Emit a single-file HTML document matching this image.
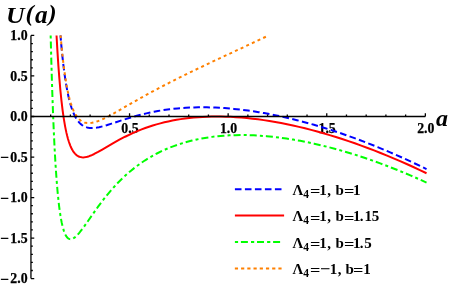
<!DOCTYPE html>
<html><head><meta charset="utf-8"><style>
html,body{margin:0;padding:0;background:#fff;}
svg{display:block;will-change:transform;font-family:"Liberation Serif",serif;font-weight:bold;}
</style></head><body>
<svg width="449" height="288" viewBox="0 0 449 288">
<defs><filter id="idf" x="0" y="0" width="449" height="288" filterUnits="userSpaceOnUse" color-interpolation-filters="sRGB"><feOffset dx="0" dy="0"/></filter></defs>
<rect width="449" height="288" fill="#fff"/>
<g fill="#000" stroke="#000" stroke-width="0.25" filter="url(#idf)"><text transform="translate(27.60 40.25) scale(1 1)" font-size="13.8px" text-anchor="end">1.0</text><text transform="translate(27.60 80.77) scale(1 1)" font-size="13.8px" text-anchor="end">0.5</text><text transform="translate(27.60 121.30) scale(1 1)" font-size="13.8px" text-anchor="end">0.0</text><text transform="translate(27.60 161.83) scale(1 1)" font-size="13.8px" text-anchor="end">0.5</text><text transform="translate(4.50 162.03) scale(1.1 1)" font-size="13.8px" text-anchor="middle" stroke="#000" stroke-width="0.3">−</text><text transform="translate(27.60 202.35) scale(1 1)" font-size="13.8px" text-anchor="end">1.0</text><text transform="translate(4.50 202.55) scale(1.1 1)" font-size="13.8px" text-anchor="middle" stroke="#000" stroke-width="0.3">−</text><text transform="translate(27.60 242.88) scale(1 1)" font-size="13.8px" text-anchor="end">1.5</text><text transform="translate(4.50 243.07) scale(1.1 1)" font-size="13.8px" text-anchor="middle" stroke="#000" stroke-width="0.3">−</text><text transform="translate(27.60 283.40) scale(1 1)" font-size="13.8px" text-anchor="end">2.0</text><text transform="translate(4.50 283.60) scale(1.1 1)" font-size="13.8px" text-anchor="middle" stroke="#000" stroke-width="0.3">−</text><text transform="translate(129.95 133.00) scale(1 1)" font-size="13.8px" text-anchor="middle">0.5</text><text transform="translate(228.55 133.00) scale(1 1)" font-size="13.8px" text-anchor="middle">1.0</text><text transform="translate(327.15 133.00) scale(1 1)" font-size="13.8px" text-anchor="middle">1.5</text><text transform="translate(425.85 133.00) scale(1 1)" font-size="13.8px" text-anchor="middle">2.0</text></g>
<g fill="none" stroke-width="2" stroke-linecap="butt" stroke-linejoin="round">
<path d="M60.48 35.45 L61.45 46.63 L62.48 57.03 L63.57 66.64 L64.73 75.45 L65.95 83.45 L67.24 90.64 L68.59 97.04 L69.29 99.99 L70.07 102.92 L70.84 105.59 L71.61 108.01 L72.38 110.21 L73.22 112.36 L74.05 114.30 L74.95 116.16 L75.85 117.83 L76.75 119.30 L77.72 120.70 L78.75 122.00 L79.77 123.13 L80.87 124.15 L82.02 125.06 L83.18 125.82 L84.40 126.46 L85.69 127.00 L87.04 127.42 L88.52 127.74 L90.00 127.93 L91.61 128.01 L93.28 127.97 L95.08 127.82 L97.01 127.56 L99.06 127.17 L102.79 126.28 L107.29 124.99 L111.60 123.63 L123.69 119.67 L130.83 117.47 L136.81 115.77 L142.59 114.26 L146.45 113.35 L150.25 112.51 L154.04 111.74 L157.90 111.02 L161.75 110.38 L165.68 109.78 L169.60 109.26 L173.52 108.80 L177.57 108.40 L181.62 108.06 L185.74 107.78 L189.92 107.56 L194.10 107.41 L198.34 107.32 L202.58 107.30 L206.89 107.34 L211.26 107.44 L215.64 107.60 L220.07 107.83 L224.57 108.12 L233.64 108.89 L242.90 109.92 L248.11 110.60 L253.38 111.36 L258.72 112.20 L264.05 113.11 L269.45 114.10 L274.85 115.17 L280.32 116.31 L285.85 117.54 L291.38 118.84 L296.97 120.22 L302.63 121.68 L308.29 123.21 L313.95 124.81 L319.67 126.49 L325.39 128.23 L331.18 130.07 L336.97 131.96 L342.82 133.95 L348.67 135.99 L354.52 138.11 L366.35 142.57 L378.25 147.31 L390.20 152.33 L402.23 157.63 L414.38 163.23 L426.53 169.09" stroke="#0000ff" stroke-dasharray="6.6 3.385" stroke-dashoffset="1.4"/>
<path d="M56.54 35.45 L57.40 50.57 L58.36 65.38 L59.33 78.19 L60.36 89.97 L61.45 100.68 L62.61 110.30 L63.83 118.85 L65.11 126.36 L65.76 129.62 L66.46 132.88 L67.17 135.81 L67.94 138.68 L68.72 141.24 L69.55 143.70 L70.39 145.86 L71.22 147.76 L72.12 149.53 L73.02 151.06 L73.99 152.46 L74.95 153.63 L75.98 154.65 L77.07 155.53 L78.23 156.24 L79.39 156.75 L80.61 157.12 L81.83 157.32 L83.12 157.38 L84.47 157.30 L85.88 157.08 L87.43 156.71 L89.10 156.18 L90.83 155.51 L92.44 154.81 L94.18 153.98 L98.10 151.91 L101.83 149.79 L112.82 143.36 L119.38 139.71 L125.10 136.73 L130.70 134.03 L134.30 132.41 L137.96 130.86 L141.63 129.40 L145.29 128.03 L149.02 126.73 L152.75 125.53 L156.55 124.39 L160.34 123.35 L164.33 122.34 L168.31 121.43 L172.43 120.58 L176.54 119.82 L180.72 119.13 L184.97 118.53 L189.27 118.00 L193.65 117.56 L198.08 117.19 L202.52 116.91 L207.08 116.70 L211.65 116.57 L216.28 116.52 L220.97 116.56 L225.73 116.67 L230.49 116.86 L235.89 117.16 L241.36 117.56 L246.88 118.06 L252.41 118.65 L258.07 119.35 L263.73 120.13 L269.45 121.02 L275.24 121.99 L281.09 123.07 L287.01 124.24 L292.99 125.52 L298.97 126.87 L305.01 128.33 L311.12 129.88 L317.23 131.52 L323.40 133.25 L329.64 135.09 L335.87 137.01 L342.17 139.02 L348.48 141.12 L354.84 143.31 L361.21 145.59 L367.64 147.97 L374.07 150.42 L380.56 152.98 L387.05 155.61 L393.55 158.33 L400.11 161.14 L406.67 164.03 L413.29 167.03 L419.91 170.11 L426.53 173.25" stroke="#ff0000"/>
<path d="M50.66 35.45 L51.35 62.03 L52.13 87.67 L52.90 109.71 L53.73 130.15 L54.63 148.79 L55.53 164.51 L56.50 178.63 L57.53 191.11 L58.62 201.95 L59.20 206.83 L59.84 211.65 L60.49 215.89 L61.13 219.62 L61.77 222.89 L62.48 226.01 L63.19 228.68 L63.96 231.14 L64.73 233.18 L65.56 234.97 L66.40 236.38 L67.30 237.53 L67.75 237.97 L68.27 238.39 L68.72 238.67 L69.23 238.91 L70.13 239.13 L71.03 239.14 L71.99 238.94 L72.96 238.54 L74.05 237.90 L75.15 237.09 L76.37 236.00 L77.65 234.69 L78.87 233.32 L80.22 231.69 L83.31 227.64 L86.27 223.51 L95.21 210.72 L98.10 206.70 L100.80 203.06 L103.37 199.69 L105.94 196.44 L108.52 193.30 L111.02 190.35 L114.24 186.73 L117.45 183.30 L120.73 179.97 L124.01 176.82 L127.35 173.78 L130.70 170.92 L134.17 168.11 L137.64 165.47 L141.37 162.82 L145.17 160.29 L149.02 157.89 L152.95 155.63 L156.93 153.49 L161.05 151.44 L165.23 149.53 L169.47 147.74 L173.78 146.08 L178.21 144.52 L182.72 143.08 L187.34 141.75 L192.04 140.55 L196.80 139.47 L201.62 138.51 L206.57 137.67 L212.10 136.87 L217.76 136.22 L223.54 135.71 L229.40 135.35 L235.38 135.13 L241.42 135.05 L247.59 135.12 L253.83 135.33 L260.19 135.68 L266.62 136.18 L273.18 136.83 L279.81 137.61 L286.49 138.54 L293.31 139.61 L300.19 140.83 L307.13 142.18 L314.14 143.67 L321.21 145.31 L328.35 147.08 L335.62 149.00 L342.95 151.07 L350.28 153.25 L357.67 155.58 L365.13 158.04 L372.65 160.64 L380.24 163.38 L387.83 166.24 L395.48 169.24 L403.19 172.38 L410.91 175.63 L418.69 179.02 L426.53 182.56" stroke="#00ff00" stroke-dasharray="3.0 3.0 7.05 3.12"/>
<path d="M60.58 35.45 L61.64 47.38 L62.74 58.01 L63.89 67.72 L65.18 76.92 L66.46 84.71 L67.17 88.48 L67.88 91.92 L68.59 95.07 L69.36 98.19 L70.13 101.02 L70.97 103.78 L71.80 106.26 L72.64 108.48 L73.54 110.61 L74.44 112.50 L75.40 114.27 L76.37 115.83 L77.40 117.26 L78.42 118.48 L79.52 119.58 L80.67 120.55 L81.90 121.36 L83.12 122.00 L84.40 122.49 L85.75 122.85 L87.17 123.06 L88.65 123.13 L90.19 123.07 L91.86 122.85 L93.66 122.48 L95.53 121.97 L97.52 121.31 L99.64 120.49 L101.96 119.50 L104.46 118.32 L108.77 116.12 L113.92 113.31 L136.16 100.56 L148.25 93.82 L154.36 90.52 L160.60 87.21 L173.52 80.56 L188.05 73.36 L204.64 65.39 L218.98 58.64 L252.74 42.91 L268.64 35.45" stroke="#ff8000" stroke-dasharray="3 3.22" stroke-dashoffset="0.3"/>
</g>
<g fill="none" stroke="#000" stroke-width="1.3">
<path d="M30.95 35.45 V278.60"/>
<path d="M30.95 116.5 H425.35"/>
<path d="M30.95 278.60 h3.3M30.95 270.50 h1.9M30.95 262.39 h1.9M30.95 254.28 h1.9M30.95 246.18 h1.9M30.95 238.07 h3.3M30.95 229.97 h1.9M30.95 221.87 h1.9M30.95 213.76 h1.9M30.95 205.66 h1.9M30.95 197.55 h3.3M30.95 189.44 h1.9M30.95 181.34 h1.9M30.95 173.23 h1.9M30.95 165.13 h1.9M30.95 157.03 h3.3M30.95 148.92 h1.9M30.95 140.81 h1.9M30.95 132.71 h1.9M30.95 124.61 h1.9M30.95 116.50 h3.3M30.95 108.39 h1.9M30.95 100.29 h1.9M30.95 92.19 h1.9M30.95 84.08 h1.9M30.95 75.97 h3.3M30.95 67.87 h1.9M30.95 59.77 h1.9M30.95 51.66 h1.9M30.95 43.56 h1.9M30.95 35.45 h3.3"/>
<path d="M50.67 116.50 v-1.9M70.39 116.50 v-1.9M90.11 116.50 v-1.9M109.83 116.50 v-1.9M129.55 116.50 v-3.3M149.27 116.50 v-1.9M168.99 116.50 v-1.9M188.71 116.50 v-1.9M208.43 116.50 v-1.9M228.15 116.50 v-3.3M247.87 116.50 v-1.9M267.59 116.50 v-1.9M287.31 116.50 v-1.9M307.03 116.50 v-1.9M326.75 116.50 v-3.3M346.47 116.50 v-1.9M366.19 116.50 v-1.9M385.91 116.50 v-1.9M405.63 116.50 v-1.9M425.35 116.50 v-3.3"/>
</g>
<g fill="#000" filter="url(#idf)"><text transform="translate(6.00 22.50) scale(1.07 1)" font-size="24px" text-anchor="start" font-style="italic">U</text><text transform="translate(25.10 21.30) skewX(-11) scale(1 1)" font-size="23.5px" text-anchor="start">(</text><text transform="translate(35.00 22.50) scale(1 1)" font-size="25.3px" text-anchor="start" font-style="italic">a</text><text transform="translate(46.80 21.30) skewX(-11) scale(1 1)" font-size="23.5px" text-anchor="start">)</text><text transform="translate(436.10 126.10) scale(1 1)" font-size="24px" text-anchor="start" font-style="italic">a</text></g>
<g fill="none" stroke-width="2">
<path d="M234.9 189.2 H281.6" stroke="#0000ff" stroke-dasharray="6.6 3.4"/>
<path d="M234.9 215.6 H284.1" stroke="#ff0000"/>
<path d="M234.9 242.05 H280.7" stroke="#00ff00" stroke-dasharray="3.2 2.8 7 3.1"/>
<path d="M234.85 268.4 H282" stroke="#ff8000" stroke-dasharray="3.2 3.02"/>
</g>
<g fill="#000" filter="url(#idf)"><text transform="translate(297.82 194.60) scale(1 1.02)" font-size="15px" text-anchor="middle">Λ</text><text transform="translate(306.03 197.60) scale(1 1)" font-size="11.5px" text-anchor="middle">4</text><text transform="translate(315.25 196.10) scale(1.22 1.02)" font-size="15px" text-anchor="middle">=</text><text transform="translate(323.02 194.60) scale(1 1.02)" font-size="15px" text-anchor="middle">1</text><text transform="translate(329.09 194.60) scale(1 1.02)" font-size="15px" text-anchor="middle">,</text><text transform="translate(339.75 194.60) scale(1 1.02)" font-size="15px" text-anchor="middle">b</text><text transform="translate(349.10 196.10) scale(1.22 1.02)" font-size="15px" text-anchor="middle">=</text><text transform="translate(356.67 194.60) scale(1 1.02)" font-size="15px" text-anchor="middle">1</text><text transform="translate(297.82 221.10) scale(1 1.02)" font-size="15px" text-anchor="middle">Λ</text><text transform="translate(306.03 224.10) scale(1 1)" font-size="11.5px" text-anchor="middle">4</text><text transform="translate(315.25 222.60) scale(1.22 1.02)" font-size="15px" text-anchor="middle">=</text><text transform="translate(323.02 221.10) scale(1 1.02)" font-size="15px" text-anchor="middle">1</text><text transform="translate(329.09 221.10) scale(1 1.02)" font-size="15px" text-anchor="middle">,</text><text transform="translate(339.75 221.10) scale(1 1.02)" font-size="15px" text-anchor="middle">b</text><text transform="translate(349.10 222.60) scale(1.22 1.02)" font-size="15px" text-anchor="middle">=</text><text transform="translate(356.67 221.10) scale(1 1.02)" font-size="15px" text-anchor="middle">1</text><text transform="translate(361.70 221.10) scale(1 1.02)" font-size="15px" text-anchor="middle">.</text><text transform="translate(368.17 221.10) scale(1 1.02)" font-size="15px" text-anchor="middle">1</text><text transform="translate(375.46 221.10) scale(1 1.02)" font-size="15px" text-anchor="middle">5</text><text transform="translate(297.82 247.50) scale(1 1.02)" font-size="15px" text-anchor="middle">Λ</text><text transform="translate(306.03 250.50) scale(1 1)" font-size="11.5px" text-anchor="middle">4</text><text transform="translate(315.25 249.00) scale(1.22 1.02)" font-size="15px" text-anchor="middle">=</text><text transform="translate(323.02 247.50) scale(1 1.02)" font-size="15px" text-anchor="middle">1</text><text transform="translate(329.09 247.50) scale(1 1.02)" font-size="15px" text-anchor="middle">,</text><text transform="translate(339.75 247.50) scale(1 1.02)" font-size="15px" text-anchor="middle">b</text><text transform="translate(349.10 249.00) scale(1.22 1.02)" font-size="15px" text-anchor="middle">=</text><text transform="translate(356.67 247.50) scale(1 1.02)" font-size="15px" text-anchor="middle">1</text><text transform="translate(361.70 247.50) scale(1 1.02)" font-size="15px" text-anchor="middle">.</text><text transform="translate(367.91 247.50) scale(1 1.02)" font-size="15px" text-anchor="middle">5</text><text transform="translate(297.82 273.80) scale(1 1.02)" font-size="15px" text-anchor="middle">Λ</text><text transform="translate(306.03 276.80) scale(1 1)" font-size="11.5px" text-anchor="middle">4</text><text transform="translate(315.25 275.30) scale(1.22 1.02)" font-size="15px" text-anchor="middle">=</text><text transform="translate(325.15 274.30) scale(1.22 1.02)" font-size="15px" text-anchor="middle">−</text><text transform="translate(333.57 273.80) scale(1 1.02)" font-size="15px" text-anchor="middle">1</text><text transform="translate(339.54 273.80) scale(1 1.02)" font-size="15px" text-anchor="middle">,</text><text transform="translate(349.60 273.80) scale(1 1.02)" font-size="15px" text-anchor="middle">b</text><text transform="translate(358.10 275.30) scale(1.22 1.02)" font-size="15px" text-anchor="middle">=</text><text transform="translate(366.97 273.80) scale(1 1.02)" font-size="15px" text-anchor="middle">1</text></g>
</svg>
</body></html>
